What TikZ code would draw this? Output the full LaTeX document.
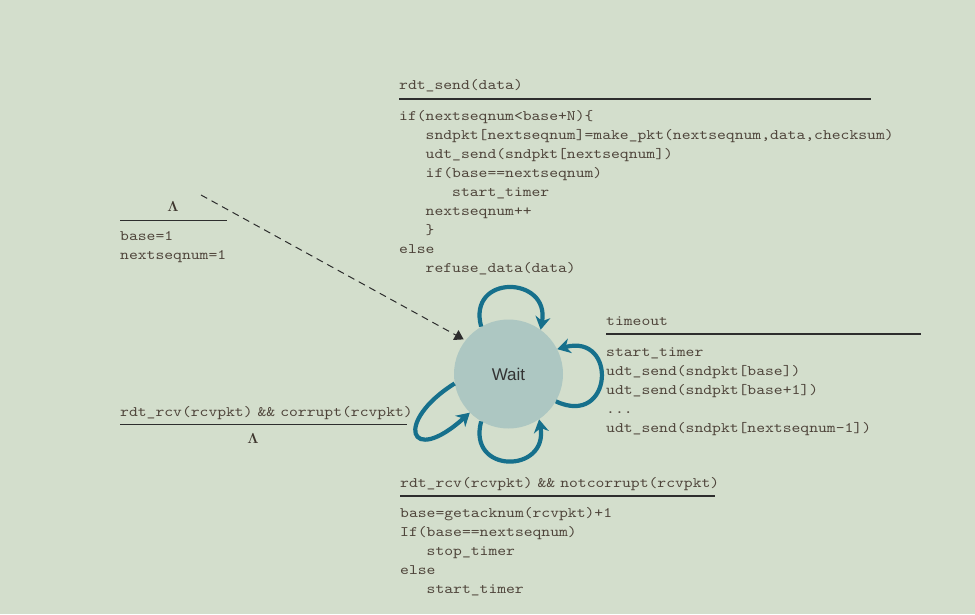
\documentclass[tikz,border=0pt]{standalone}
\usepackage{fontspec}
\usetikzlibrary{arrows.meta}
\newfontfamily\statefont{Liberation Sans}
\newfontfamily\codefont{lmmono10-regular.otf}[FakeStretch=1.16]
\definecolor{bgcol}{RGB}{211,222,204}
\definecolor{statecol}{RGB}{173,199,194}
\definecolor{loopcol}{RGB}{22,112,140}
\definecolor{codecol}{RGB}{78,68,58}
\definecolor{rulecol}{RGB}{45,45,45}
\newcommand{\codeind}{\phantom{xxx}}
\newcommand{\codegap}{\hspace{5pt}}
\tikzset{
  waitstate/.style={circle, fill=statecol, minimum size=109pt, inner sep=0pt,
    font=\statefont\fontsize{17}{17}\selectfont, text=black!80},
  code/.style={font=\codefont\fontsize{14.5}{19.05}\selectfont, text=codecol, inner sep=0pt, align=left},
  lam/.style={font=\fontsize{15}{15}\selectfont\boldmath, text=codecol!80!black, inner sep=0pt},
  guard/.style={draw=rulecol, line width=1.3pt},
  selfloop/.style={draw=loopcol, line width=4.2pt, -{Stealth[length=13pt,width=15pt]}},
  initarrow/.style={draw=rulecol, line width=1pt, dash pattern=on 7pt off 5pt,
    -{Triangle[length=9pt,width=11pt]}, shorten >=2pt}
}
\begin{document}
\begin{tikzpicture}[x=1pt,y=1pt]
  \path[use as bounding box, fill=bgcol] (0,0) rectangle (975,-614);

  \node[waitstate] (wait) at (508.5,-374) {Wait};

  \node[code, anchor=base west] (sendev) at (399,-89) {rdt\_send(data)};
  \draw[guard] (399,-99) -- (871,-99);
  \node[code, anchor=north west] (sendact) at (399,-107) {\rule{0pt}{13pt}if(nextseqnum<base+N)\{\\
    \codeind sndpkt[nextseqnum]=make\_pkt(nextseqnum,data,checksum)\\
    \codeind udt\_send(sndpkt[nextseqnum])\\
    \codeind if(base==nextseqnum)\\
    \codeind\codeind start\_timer\\
    \codeind nextseqnum++\\
    \codeind \}\\
    else\\
    \codeind refuse\_data(data)};

  \node[lam, anchor=base] (initev) at (173,-211.5) {$\Lambda$};
  \draw[guard] (120,-220.3) -- (226.7,-220.3);
  \node[code, anchor=north west] (initact) at (120,-227) {\rule{0pt}{13pt}base=1\\nextseqnum=1};
  \coordinate (initstart) at (201,-195);

  \node[code, anchor=base west] (timeev) at (606,-325) {timeout};
  \draw[guard] (606,-334) -- (921,-334);
  \node[code, anchor=north west] (timeact) at (606,-343) {\rule{0pt}{13pt}start\_timer\\
    udt\_send(sndpkt[base])\\
    udt\_send(sndpkt[base+1])\\
    ...\\
    udt\_send(sndpkt[nextseqnum-1])};

  \node[code, anchor=base west] (correv) at (120,-416) {rdt\_rcv(rcvpkt)\codegap\&\&\codegap corrupt(rcvpkt)};
  \draw[guard] (120,-424.7) -- (407,-424.7);
  \node[lam, anchor=base] (corract) at (253,-443) {$\Lambda$};

  \node[code, anchor=base west] (ackev) at (400,-487.3) {rdt\_rcv(rcvpkt)\codegap\&\&\codegap notcorrupt(rcvpkt)};
  \draw[guard] (400,-496) -- (715,-496);
  \node[code, anchor=north west] (ackact) at (400,-504.3) {\rule{0pt}{13pt}base=getacknum(rcvpkt)+1\\
    If(base==nextseqnum)\\
    \codeind stop\_timer\\
    else\\
    \codeind start\_timer};

  \draw[initarrow] (initstart) -- (wait.142);

  \draw[selfloop] (wait.120) .. controls +(105:55) and +(80:55) .. (wait.54);
  \draw[selfloop] (wait.-30) .. controls +(-25:63) and +(15:63) .. (wait.27);
  \draw[selfloop] (wait.-120) .. controls +(-105:55) and +(-80:55) .. (wait.-56);
  \draw[selfloop] (wait.190) .. controls +(212:72) and +(222:82) .. (wait.225);
\end{tikzpicture}
\end{document}
